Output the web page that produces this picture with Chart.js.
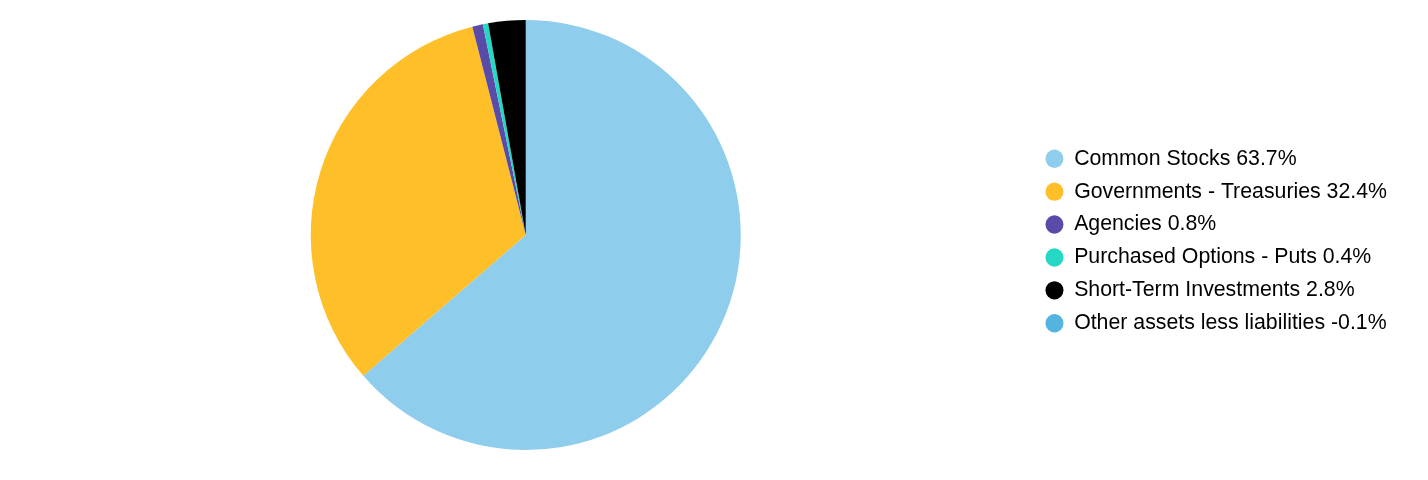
<!DOCTYPE html>
<html>
<head>
<meta charset="utf-8">
<script src="https://cdn.jsdelivr.net/npm/chart.js@4"></script>
<style>
html,body{margin:0;padding:0;background:#fff;}
#wrap{width:1428px;height:480px;position:relative;}
</style>
</head>
<body>
<div id="wrap"><canvas id="c"></canvas></div>
<script>
const categories = ["Common Stocks","Governments - Treasuries","Agencies","Purchased Options - Puts","Short-Term Investments","Other assets less liabilities"];
const values = [63.7, 32.4, 0.8, 0.4, 2.8, -0.1];
const colors = ["#8FCDEC","#FFBF29","#5B4BA8","#24D8C4","#000000","#55B4DF"];
const labels = categories.map((c,i)=>c+" "+values[i]+"%");

new Chart(document.getElementById('c'), {
  type: 'pie',
  data: {
    labels: labels,
    datasets: [{
      data: values.map(v=>Math.max(v,0)),
      backgroundColor: colors,
      borderWidth: 0
    }]
  },
  options: {
    responsive: true,
    maintainAspectRatio: false,
    animation: false,
    layout: {padding: {top: 20, bottom: 30, left: 17.6, right: 31}},
    plugins: {
      tooltip: {enabled:false},
      legend: {
        position: 'right',
        title: {display: true, text: '', padding: 0, font: {size: 10}},
        labels: {
          usePointStyle: true,
          pointStyle: 'circle',
          boxHeight: 13,
          pointStyleWidth: 18,
          padding: 11.6,
          color: '#000',
          font: {family: 'Liberation Sans, Arial, sans-serif', size: 21.3}
        }
      }
    }
  }
});
</script>
</body>
</html>
